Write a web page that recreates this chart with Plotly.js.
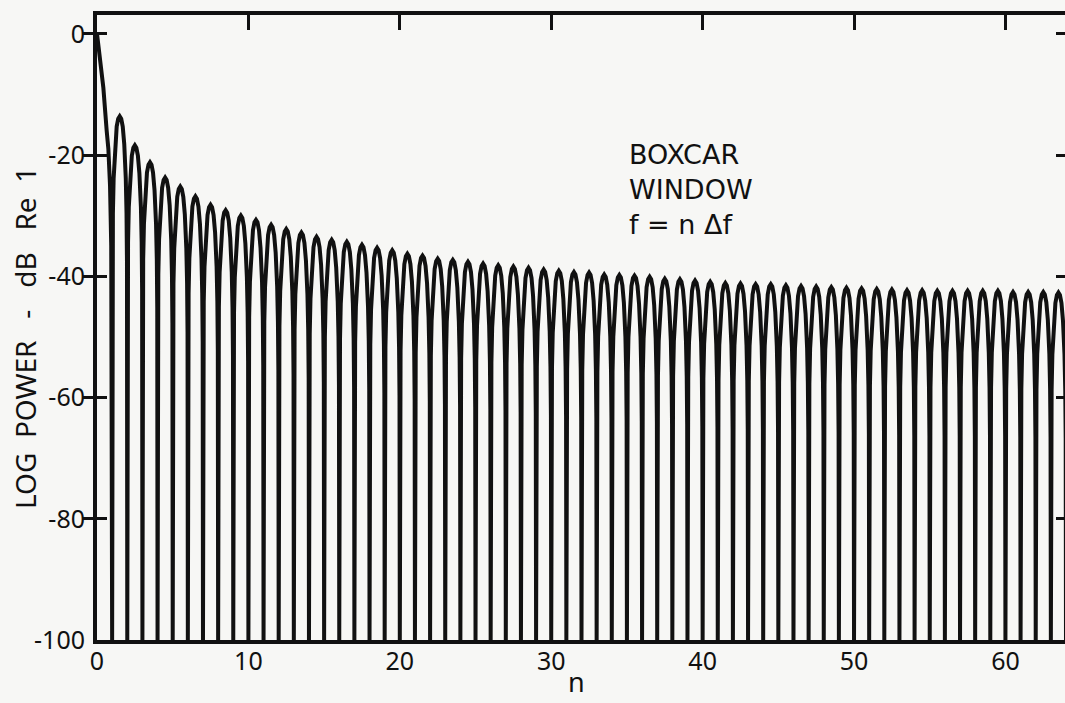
<!DOCTYPE html>
<html>
<head>
<meta charset="utf-8">
<script src="https://cdn.plot.ly/plotly-3.0.1.min.js"></script>
<style>
  html, body { margin: 0; padding: 0; background: #f7f7f5; overflow: hidden; }
  #chart { width: 1068px; height: 703px; }
</style>
</head>
<body>
<div id="chart"></div>
<script>
// Boxcar window spectrum, log power in dB versus bin number n.

// Main lobe (right half), from n = 0 down to the first null.
const mainLobeN  = [0, 0.09, 0.25, 0.42, 0.64, 0.75, 0.86, 0.94, 1];
const mainLobeDb = [0, -1.8, -5.0, -8.9, -16.0, -19.0, -25.0, -35.0, -100];

// Side-lobe peak levels (dB), lobe k spans n = k .. k+1, k = 1 .. 63.
const sidelobePeakDb = [
  -13.6, -18.4, -21.2, -23.7, -25.2, -26.8, -28.2, -29.1, -30.0, -30.7,
  -31.5, -32.2, -32.8, -33.5, -34.0, -34.3, -34.8, -35.3, -35.7, -36.3,
  -36.6, -37.1, -37.3, -37.6, -37.9, -38.2, -38.4, -38.6, -38.9, -39.1,
  -39.3, -39.4, -39.7, -39.8, -39.9, -40.1, -40.4, -40.5, -40.7, -40.9,
  -41.1, -41.2, -41.3, -41.3, -41.5, -41.6, -41.7, -41.8, -41.9, -42.0,
  -42.1, -42.2, -42.3, -42.3, -42.4, -42.4, -42.4, -42.4, -42.4, -42.6,
  -42.6, -42.6, -42.7
];

// Shape of one side lobe: distance from its null (fraction of a bin)
// and level below the lobe's peak (dB). The null itself sits on the floor.
const lobeOffset = [0, 0.02, 0.05, 0.10, 0.15, 0.20, 0.30, 0.40, 0.50];
const lobeDrop   = [null, -24.0, -16.0, -10.2, -7.1, -4.6, -1.7, -0.4, 0];

const floorDb = -100;

// Axis ticks
const xTicks = [0, 10, 20, 30, 40, 50, 60];
const yTicks = [-100, -80, -60, -40, -20, 0];
const yTickText = ['-100', '-80', '-60', '-40', '-20', '0'];

// Assemble the curve: main lobe followed by each side lobe.
const xs = mainLobeN.slice();
const ys = mainLobeDb.slice();
sidelobePeakDb.forEach((peak, i) => {
  const k = i + 1;
  // rising half
  for (let j = 1; j < lobeOffset.length; j++) {
    xs.push(k + lobeOffset[j]);
    ys.push(peak + lobeDrop[j]);
  }
  // falling half
  for (let j = lobeOffset.length - 2; j >= 0; j--) {
    xs.push(k + 1 - lobeOffset[j]);
    ys.push(lobeDrop[j] === null ? floorDb : peak + lobeDrop[j]);
  }
});

const ink = '#111111';
const tickFont = { family: 'Noto Sans, Liberation Sans, sans-serif', size: 25, color: ink };
const gap = n => '\u00A0'.repeat(n);

const data = [{
  type: 'scatter',
  mode: 'lines',
  x: xs,
  y: ys,
  line: { color: ink, width: 4 },
  hoverinfo: 'skip',
  showlegend: false
}, {
  // empty trace to carry the top axis
  type: 'scatter', mode: 'lines', x: [0], y: [floorDb],
  xaxis: 'x2', yaxis: 'y', line: { width: 0 }, hoverinfo: 'skip', showlegend: false
}];

const layout = {
  width: 1068,
  height: 703,
  margin: { l: 97, r: 2, t: 15, b: 63 },
  paper_bgcolor: '#f7f7f5',
  plot_bgcolor: '#f7f7f5',
  showlegend: false,
  xaxis: {
    range: [0, 64],
    tickvals: xTicks,
    ticks: 'inside', ticklen: 10, tickwidth: 3, tickcolor: ink,
    showline: true, linewidth: 4, linecolor: ink,
    showgrid: false, zeroline: false,
    tickfont: tickFont,
    ticklabelstandoff: -4
  },
  xaxis2: {
    overlaying: 'x', side: 'top', matches: 'x',
    range: [0, 64],
    tickvals: xTicks.slice(1),
    ticks: 'inside', ticklen: 15, tickwidth: 3, tickcolor: ink,
    showline: true, linewidth: 4, linecolor: ink,
    showticklabels: false, showgrid: false, zeroline: false
  },
  yaxis: {
    range: [-100, 3.1],
    tickvals: yTicks, ticktext: yTickText,
    ticks: 'inside', ticklen: 10, tickwidth: 3, tickcolor: ink,
    showline: true, linewidth: 4, linecolor: ink, mirror: 'allticks',
    showgrid: false, zeroline: false,
    tickfont: tickFont,
    ticklabelstandoff: 3
  },
  annotations: [{
    text: 'BOXCAR<br>WINDOW<br>f = n \u0394f',
    xref: 'x', yref: 'paper', x: 35.0, y: (640 - 137) / 625,
    xanchor: 'left', yanchor: 'top', align: 'left', showarrow: false,
    font: { family: 'DejaVu Sans, sans-serif', size: 27, color: ink }
  }, {
    text: 'n',
    xref: 'x', yref: 'paper', x: 31.7, y: (640 - 702) / 625,
    xanchor: 'center', yanchor: 'bottom', showarrow: false,
    font: { family: 'Noto Sans, sans-serif', size: 27, color: ink }
  }, {
    text: 'LOG' + gap(2) + 'POWER' + gap(3) + '-' + gap(3) + 'dB' + gap(3) + 'Re' + gap(2) + '1',
    xref: 'paper', yref: 'paper', x: (25 - 97) / 969, y: (640 - 338) / 625,
    xanchor: 'center', yanchor: 'middle', textangle: -90, showarrow: false,
    font: { family: 'Noto Sans, sans-serif', size: 28, color: ink }
  }]
};

Plotly.newPlot('chart', data, layout, { displayModeBar: false, staticPlot: true });
</script>
</body>
</html>
